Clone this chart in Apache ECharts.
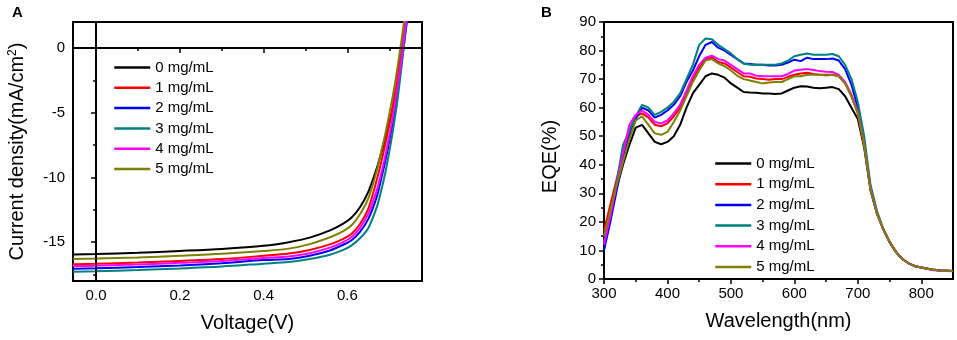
<!DOCTYPE html>
<html>
<head>
<meta charset="utf-8">
<title>J-V and EQE</title>
<script src="https://cdn.jsdelivr.net/npm/echarts@6/dist/echarts.min.js"></script>
<style>
  html, body { margin: 0; padding: 0; background: #fff; }
  #chart { width: 957px; height: 340px; }
</style>
</head>
<body>
<div id="chart"></div>
<script>
// series names and colours (Origin defaults)
const seriesNames = ['0 mg/mL', '1 mg/mL', '2 mg/mL', '3 mg/mL', '4 mg/mL', '5 mg/mL']
const seriesColors = ['#000000', '#ff0000', '#0000ff', '#008080', '#ff00ff', '#808000']

// panel A: J-V curves
const jvVoltage = [-0.055, 0, 0.1, 0.2, 0.3, 0.4, 0.46, 0.51, 0.56, 0.59, 0.61, 0.63, 0.65, 0.67, 0.68, 0.69, 0.7, 0.71, 0.72, 0.73, 0.74, 0.75]
const jv0 = [-15.95, -15.92, -15.82, -15.68, -15.52, -15.28, -15.0, -14.65, -14.07, -13.57, -13.1, -12.3, -11.1, -9.3, -8.2, -7.0, -5.8, -4.3, -2.3, 0, 2.6, 5.5]
const jv1 = [-16.7, -16.67, -16.58, -16.45, -16.3, -16.05, -15.88, -15.6, -15.15, -14.75, -14.35, -13.6, -12.4, -10.2, -8.9, -7.5, -5.9, -4.2, -2.2, 0, 2.5, 5.2]
const jv2 = [-17.05, -17.02, -16.92, -16.8, -16.62, -16.38, -16.3, -16.05, -15.62, -15.2, -14.85, -14.2, -13.2, -11.5, -10.2, -8.8, -7.2, -5.4, -3.3, -1.0, 1.5, 4.2]
const jv3 = [-17.28, -17.25, -17.15, -17.03, -16.88, -16.66, -16.53, -16.3, -15.95, -15.6, -15.25, -14.7, -13.9, -12.3, -11.1, -9.7, -8.0, -6.1, -3.9, -1.2, 1.8, 4.8]
const jv4 = [-16.85, -16.82, -16.72, -16.6, -16.45, -16.22, -16.1, -15.85, -15.4, -15.0, -14.6, -13.9, -12.8, -11.0, -9.8, -8.4, -6.8, -5.0, -2.9, -0.6, 2.0, 4.7]
const jv5 = [-16.3, -16.27, -16.18, -16.05, -15.9, -15.68, -15.5, -15.15, -14.6, -14.15, -13.7, -12.85, -11.6, -9.5, -8.1, -6.7, -5.1, -3.4, -1.4, 0.8, 3.2, 6.0]
const jvTicks = [0, 0.2, 0.4, 0.6]
const jvMinorTicks = [0.1, 0.3, 0.5, 0.7]
const jTicks = [-15, -10, -5, 0]
const jMinorTicks = [-17.5, -12.5, -7.5, -2.5]

// panel B: EQE spectra
const eqeWavelength = [300, 310, 320, 330, 340, 350, 360, 370, 380, 390, 400, 410, 420, 430, 440, 450, 460, 470, 480, 490, 500,
  510, 520, 530, 540, 550, 560, 570, 580, 590, 600, 610, 620, 630, 640, 650, 660, 670, 680, 690, 700,
  710, 720, 730, 740, 750, 760, 770, 780, 790, 800, 810, 820, 830, 840, 850]
const eqe0 = [14, 23, 32, 40, 47, 53, 54, 51, 48, 47.2, 48, 50, 54, 60, 65, 68, 71, 72, 71.5, 70.5, 68.5,
  67, 65.5, 65.3, 65.2, 65, 65, 64.8, 65, 66, 67, 67.5, 67.4, 67, 66.8, 67, 67.2, 66.5, 64, 60, 56,
  46, 31, 23, 17.5, 13, 9.5, 7, 5.5, 4.5, 4, 3.6, 3.2, 3, 2.9, 2.8]
const eqe1 = [17, 26, 35, 44, 52, 57, 58, 56.5, 54, 53.5, 54.5, 57, 60, 65, 70, 74, 77, 77.5, 76, 75.5, 74,
  72.5, 71, 70.8, 70.2, 70, 69.8, 70, 70, 70.8, 71.5, 72, 72.2, 71.8, 71.5, 71.5, 71.5, 71, 68.5, 64, 58,
  47, 31.5, 23, 17.5, 13, 9.5, 7, 5.5, 4.5, 4, 3.6, 3.2, 3, 2.9, 2.8]
const eqe2 = [10, 20, 31, 42, 50, 56, 60, 59, 56.5, 57.5, 59, 61, 64, 69, 73, 78, 82, 83, 81, 80, 78.5,
  77, 75.5, 75.3, 75, 75, 74.8, 74.8, 75, 75.8, 76.8, 76.3, 77.5, 77, 77, 77, 77.2, 76.5, 73.5, 68, 60,
  48, 32, 23.5, 17.5, 13, 9.5, 7, 5.5, 4.5, 4, 3.6, 3.2, 3, 2.9, 2.8]
const eqe3 = [13, 23, 34, 47, 52, 57, 61, 60, 57.5, 58.5, 60, 62, 65, 70, 75, 82, 84.2, 84, 82, 80.5, 79,
  77, 75.5, 75, 75, 75, 75, 75, 75.5, 76.5, 78, 78.5, 79, 78.5, 78.5, 78.5, 78.8, 78, 75, 70, 62,
  50, 33, 24, 17.5, 13, 9.5, 7, 5.5, 4.5, 4, 3.6, 3.2, 3, 2.9, 2.8]
const eqe4 = [12, 22, 33, 44, 54, 57.5, 59, 57.5, 55, 54.5, 55.5, 58, 61, 66, 71, 75, 77.5, 78.2, 77, 76.5, 75,
  73.5, 72, 72, 71.2, 71, 71, 71, 71, 71.8, 73, 73.3, 73.5, 73.2, 72.8, 72.6, 72.5, 71.5, 69, 64.5, 58.5,
  47, 31.5, 23, 17.5, 13, 9.5, 7, 5.5, 4.5, 4, 3.5, 3.1, 2.9, 2.8, 2.7]
const eqe5 = [15, 24, 33, 41, 49, 55.5, 57, 54, 51, 50.5, 51.5, 55, 59, 64, 69, 73, 76.5, 77, 75.5, 74.5, 73,
  71.2, 70, 69.5, 69, 68.5, 68.8, 69, 69, 70, 71, 71, 71.5, 71.5, 71.5, 71.3, 71.5, 71, 68.5, 64, 58,
  47, 31.5, 23, 17.5, 13, 9.5, 7, 5.5, 4.5, 4, 3.6, 3.2, 3, 2.9, 2.8]
const wlTicks = [300, 400, 500, 600, 700, 800]
const wlMinorTicks = [350, 450, 550, 650, 750]
const eqeTicks = [0, 10, 20, 30, 40, 50, 60, 70, 80, 90]
const eqeMinorTicks = [5, 15, 25, 35, 45, 55, 65, 75, 85]

const jvData = [jv0, jv1, jv2, jv3, jv4, jv5]
const eqeData = [eqe0, eqe1, eqe2, eqe3, eqe4, eqe5]

const font = 'Liberation Sans, Arial, sans-serif'
const labelStyle = { color: '#000', fontFamily: font, fontSize: 15 }
const nameStyle = { color: '#000', fontFamily: font, fontSize: 20 }

// builds a main axis plus a minor-tick-only axis for the same grid
const makeAxes = (dim, gridIndex, min, max, ticks, minorTicks, extra) => {
  const main = Object.assign({
    type: 'value',
    gridIndex,
    min,
    max,
    axisLine: { show: true, lineStyle: { color: '#000', width: 2 } },
    axisTick: { show: true, customValues: ticks, length: 5, lineStyle: { color: '#000', width: 1.5 } },
    axisLabel: Object.assign({ customValues: ticks, margin: 8 }, labelStyle),
    splitLine: { show: false }
  }, extra)
  const minor = {
    type: 'value',
    gridIndex,
    min,
    max,
    position: dim === 'x' ? 'bottom' : 'left',
    axisLine: { show: false },
    axisTick: { show: true, customValues: minorTicks, length: 3, lineStyle: { color: '#000', width: 1.5 } },
    axisLabel: { show: false },
    splitLine: { show: false }
  }
  return [main, minor]
}

const xA = makeAxes('x', 0, -0.055, 0.778, jvTicks, jvMinorTicks, {
  name: 'Voltage(V)', nameLocation: 'middle', nameGap: 32, nameTextStyle: nameStyle,
  axisLabel: Object.assign({ customValues: jvTicks, margin: 7, formatter: v => v.toFixed(1) }, labelStyle)
})
const yA = makeAxes('y', 0, -18, 2, jTicks, jMinorTicks, {
  name: 'Current density(mA/cm{sup|2})', nameLocation: 'middle', nameGap: 46,
  nameTextStyle: Object.assign({}, nameStyle, {
    rich: { sup: { fontFamily: font, fontSize: 12, color: '#000', verticalAlign: 'top', padding: [0, 0, 8, 0] } }
  })
})
const xB = makeAxes('x', 1, 300, 850, wlTicks, wlMinorTicks, {
  name: 'Wavelength(nm)', nameLocation: 'middle', nameGap: 32, nameTextStyle: nameStyle,
  axisLabel: Object.assign({ customValues: wlTicks, margin: 7 }, labelStyle)
})
const yB = makeAxes('y', 1, 0, 90, eqeTicks, eqeMinorTicks, {
  name: 'EQE(%)', nameLocation: 'middle', nameGap: 44,
  nameTextStyle: Object.assign({}, nameStyle, { padding: [0, 0, 0, -12] })
})

const jvSeries = jvData.map((values, i) => ({
  name: seriesNames[i],
  type: 'line',
  xAxisIndex: 0,
  yAxisIndex: 0,
  data: jvVoltage.map((v, k) => [v, values[k]]),
  symbol: 'none',
  smooth: 0.3,
  clip: true,
  lineStyle: { color: seriesColors[i], width: 2 },
  itemStyle: { color: seriesColors[i] }
}))

// zero lines in panel A
jvSeries[0].markLine = {
  silent: true,
  symbol: 'none',
  label: { show: false },
  lineStyle: { color: '#000', width: 1.5, type: 'solid' },
  data: [{ xAxis: 0 }, { yAxis: 0 }]
}

const eqeSeries = eqeData.map((values, i) => ({
  name: seriesNames[i],
  type: 'line',
  xAxisIndex: 2,
  yAxisIndex: 2,
  data: eqeWavelength.map((w, k) => [w, values[k]]),
  symbol: 'none',
  clip: true,
  lineStyle: { color: seriesColors[i], width: 2 },
  itemStyle: { color: seriesColors[i] }
}))

// legend shows only the line, symbol hidden
const legendBase = {
  orient: 'vertical',
  padding: 0,
  itemWidth: 36,
  itemHeight: 14,
  itemGap: 5.3,
  itemStyle: { opacity: 0 },
  lineStyle: { width: 2.5 },
  textStyle: { color: '#000', fontFamily: font, fontSize: 15 },
  data: seriesNames
}

const chart = echarts.init(document.getElementById('chart'), null, { renderer: 'canvas' })

chart.setOption({
  backgroundColor: '#fff',
  animation: false,
  title: [
    { text: 'A', left: 12, top: 5, padding: 0, textStyle: { fontFamily: font, fontSize: 15, fontWeight: 'bold', color: '#000' } },
    { text: 'B', left: 541, top: 5, padding: 0, textStyle: { fontFamily: font, fontSize: 15, fontWeight: 'bold', color: '#000' } }
  ],
  grid: [
    { left: 73, right: 535, top: 22, bottom: 59, show: true, borderColor: '#000', borderWidth: 2, backgroundColor: 'transparent' },
    { left: 604, right: 4, top: 22, bottom: 61, show: true, borderColor: '#000', borderWidth: 2, backgroundColor: 'transparent' }
  ],
  legend: [
    Object.assign({}, legendBase, { left: 113, top: 60 }),
    Object.assign({}, legendBase, { left: 714, top: 156, itemGap: 5.7 })
  ],
  xAxis: [xA[0], xA[1], xB[0], xB[1]],
  yAxis: [yA[0], yA[1], yB[0], yB[1]],
  series: jvSeries.concat(eqeSeries)
})
</script>
</body>
</html>
